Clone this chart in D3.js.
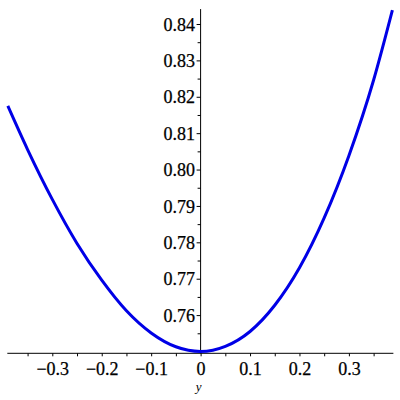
<!DOCTYPE html>
<html>
<head>
<meta charset="utf-8">
<script src="https://cdn.jsdelivr.net/npm/d3@7"></script>
<style>
  html, body { margin: 0; padding: 0; background: #fff; }
  svg { display: block; }
</style>
</head>
<body>
<svg id="chart" width="400" height="400"></svg>
<script>
// ---- data ----
const yVar = [-0.39, -0.35, -0.30, -0.25, -0.20, -0.15, -0.10, -0.05, 0, 0.05, 0.10, 0.15, 0.20, 0.25, 0.30, 0.35, 0.388];
const fVal = [0.8175, 0.8055, 0.7918, 0.7797, 0.7696, 0.7612, 0.7551, 0.7513, 0.7500, 0.7514, 0.7555, 0.7627, 0.7730, 0.7867, 0.8038, 0.8246, 0.8438];
const xTickVals = [-0.3, -0.2, -0.1, 0, 0.1, 0.2, 0.3];
const xTickLabels = ["\u22120.3", "\u22120.2", "\u22120.1", "0", "0.1", "0.2", "0.3"];
const xMinorVals = [-0.35, -0.25, -0.15, -0.05, 0.05, 0.15, 0.25, 0.35];
const yTickVals = [0.76, 0.77, 0.78, 0.79, 0.80, 0.81, 0.82, 0.83, 0.84];
const yTickLabels = ["0.76", "0.77", "0.78", "0.79", "0.80", "0.81", "0.82", "0.83", "0.84"];
const yMinorVals = [0.755, 0.765, 0.775, 0.785, 0.795, 0.805, 0.815, 0.825, 0.835];
const xAxisLabel = "y";
const xExtent = [-0.391, 0.390];
const yExtent = [0.7495, 0.8441];

// ---- scales ----
const svg = d3.select("#chart");
const x = d3.scaleLinear().domain([-0.3, 0.3]).range([52.3, 348.9]);
const y = d3.scaleLinear().domain([0.76, 0.84]).range([315.1, 24]);

const x0 = x(0);
const yAxisPos = y(yExtent[0]);
const FONT = '"Liberation Serif", "Times New Roman", serif';

// ---- axes lines ----
svg.append("line")
  .attr("x1", x(xExtent[0])).attr("x2", x(xExtent[1]))
  .attr("y1", yAxisPos).attr("y2", yAxisPos)
  .attr("stroke", "#000").attr("stroke-width", 1);
svg.append("line")
  .attr("x1", x0).attr("x2", x0)
  .attr("y1", y(yExtent[1])).attr("y2", yAxisPos)
  .attr("stroke", "#000").attr("stroke-width", 1);

function styleAxis(g) {
  g.selectAll(".domain").remove();
  g.attr("font-family", null).attr("font-size", null);
  g.selectAll(".tick line").attr("stroke", "#000");
  g.selectAll("text")
    .style("font-family", FONT)
    .style("font-size", "18px")
    .attr("fill", "#000")
    .attr("stroke", "#000").attr("stroke-width", 0.25);
}

// x ticks (minor, major), pointing down
const gxMinor = svg.append("g").attr("transform", `translate(0,${yAxisPos})`)
  .call(d3.axisBottom(x).tickValues(xMinorVals).tickSize(3).tickFormat(""));
styleAxis(gxMinor);
const gx = svg.append("g").attr("transform", `translate(0,${yAxisPos})`)
  .call(d3.axisBottom(x).tickValues(xTickVals).tickSize(3)
    .tickFormat((d, i) => xTickLabels[i]));
styleAxis(gx);
gx.selectAll("text").attr("y", 22).attr("dy", 0);

// y ticks, pointing left
const gyMinor = svg.append("g").attr("transform", `translate(${x0},0)`)
  .call(d3.axisLeft(y).tickValues(yMinorVals).tickSize(3).tickFormat(""));
styleAxis(gyMinor);
const gy = svg.append("g").attr("transform", `translate(${x0},0)`)
  .call(d3.axisLeft(y).tickValues(yTickVals).tickSize(4)
    .tickFormat((d, i) => yTickLabels[i]));
styleAxis(gy);
gy.selectAll("text").attr("x", -5.5).attr("dy", "0.34em");

// x-axis label
svg.append("text")
  .attr("x", x0 - 2).attr("y", 391)
  .attr("text-anchor", "middle")
  .style("font-family", FONT)
  .style("font-style", "italic")
  .style("font-size", "13px").attr("fill", "#000")
  .text(xAxisLabel);

// ---- curve ----
const pts = yVar.map((v, i) => [v, fVal[i]]);
svg.append("path")
  .datum(pts)
  .attr("fill", "none")
  .attr("stroke", "#0000e6")
  .attr("stroke-width", 3)
  .attr("d", d3.line().x(d => x(d[0])).y(d => y(d[1])).curve(d3.curveMonotoneX));
</script>
</body>
</html>
